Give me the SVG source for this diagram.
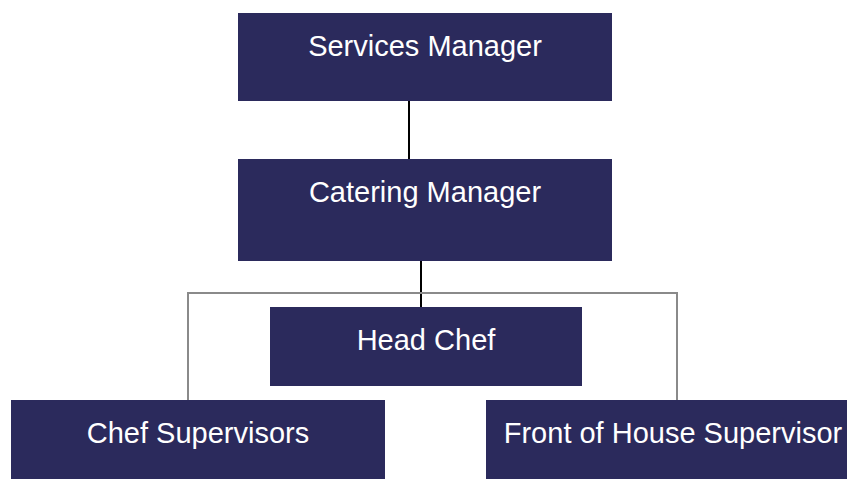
<svg xmlns="http://www.w3.org/2000/svg" width="847" height="479" viewBox="0 0 847 479">
<style>
.box{fill:#2B2A5C}
.lbl{fill:#ffffff;font-family:"Liberation Sans",Arial,sans-serif;font-size:29px;text-anchor:middle}
.dark{stroke:#000;stroke-width:2;fill:none}
.grey{stroke:#8a8a8a;stroke-width:2;fill:none}
</style>
<rect width="847" height="479" fill="#ffffff"/>
<g id="connectors">
<line class="dark" x1="409" y1="101" x2="409" y2="159"/>
<line class="dark" x1="421" y1="261" x2="421" y2="307"/>
<polyline class="grey" points="188,400 188,293 677,293 677,400"/>
</g>
<g id="services-manager">
<rect class="box" x="238" y="13" width="374" height="88"/>
<text class="lbl" x="425" y="56">Services Manager</text>
</g>
<g id="catering-manager">
<rect class="box" x="238" y="159" width="374" height="102"/>
<text class="lbl" x="425" y="202">Catering Manager</text>
</g>
<g id="head-chef">
<rect class="box" x="270" y="307" width="312" height="79"/>
<text class="lbl" x="426" y="350">Head Chef</text>
</g>
<g id="chef-supervisors">
<rect class="box" x="11" y="400" width="374" height="79"/>
<text class="lbl" x="198" y="443">Chef Supervisors</text>
</g>
<g id="front-of-house-supervisor">
<rect class="box" x="486" y="400" width="374" height="79"/>
<text class="lbl" x="673" y="443">Front of House Supervisor</text>
</g>
</svg>
